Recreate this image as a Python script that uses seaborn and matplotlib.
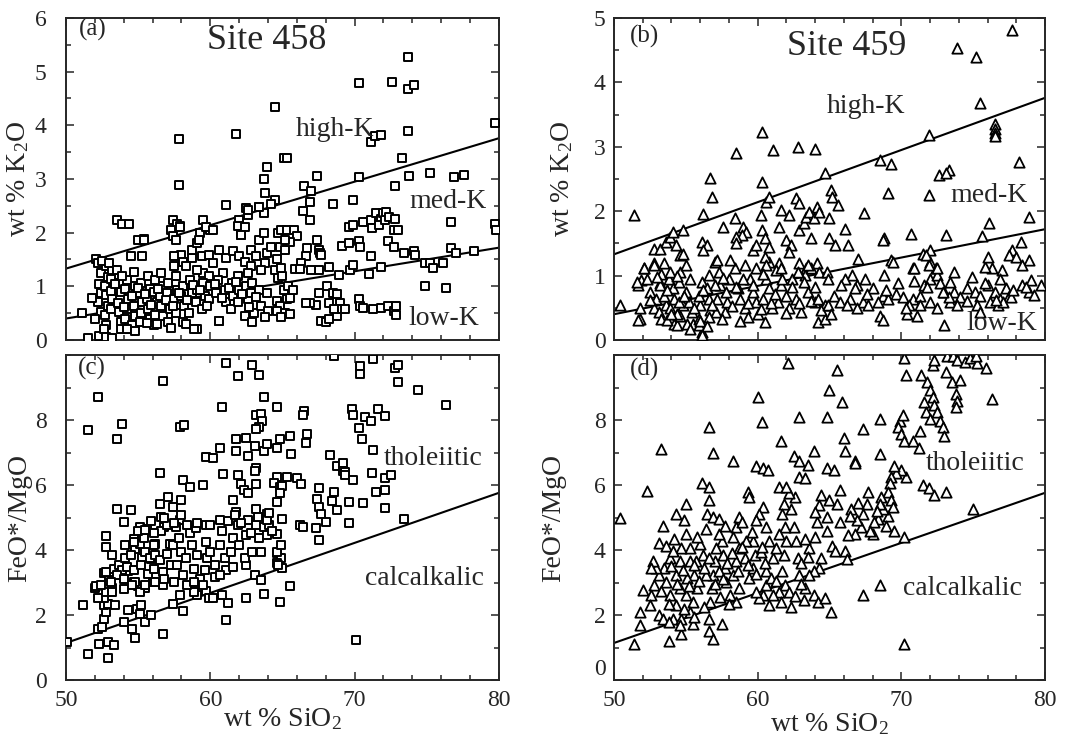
import pandas as pd
import matplotlib
matplotlib.use("Agg")
import matplotlib.pyplot as plt
import seaborn as sns
from matplotlib.ticker import MultipleLocator

# =====================================================
# DATOS
# =====================================================

sio2_limites = [50, 80]
k2o_alto_medio = [1.33, 3.76]
k2o_medio_bajo = [0.40, 1.72]
feo_thol_calc = [1.14, 5.76]

# (a) Site 458: SiO2 vs K2O
pts_a = [
    (57.85, 3.74), (57.8, 2.89), (61.8, 3.84), (64.5, 4.34), (63.9, 3.22), (63.7, 3.00),
    (63.8, 2.74), (64.5, 2.60), (64.2, 2.53), (63.4, 2.47), (63.7, 2.36), (61.1, 2.51),
    (62.5, 2.45), (62.6, 2.32), (62.0, 2.23), (61.9, 2.12), (62.1, 1.96), (59.5, 2.23),
    (59.3, 1.99), (60.0, 2.05), (57.4, 2.24), (57.7, 2.17), (57.9, 2.12), (57.3, 2.05),
    (57.4, 1.93), (53.5, 2.23), (53.9, 2.17), (54.4, 2.17), (55.0, 1.86), (55.4, 1.88),
    (54.5, 1.56), (55.3, 1.56), (52.1, 1.51), (63.9, 1.62), (63.4, 1.86), (63.7, 1.99),
    (64.2, 1.74), (64.6, 1.50), (64.5, 1.31), (64.7, 1.16),
    (65.1, 3.39), (65.3, 3.40), (66.5, 2.86), (67.0, 2.77), (66.9, 2.57), (66.9, 2.23),
    (66.4, 2.40), (67.4, 3.06), (68.5, 2.54), (69.9, 2.61), (70.3, 3.03), (72.8, 2.86),
    (73.3, 3.39), (73.8, 3.06), (75.2, 3.11), (76.9, 3.03), (77.6, 3.08), (79.7, 4.05),
    (73.7, 3.89), (71.1, 3.68), (71.4, 3.80), (71.8, 3.82), (73.7, 4.68), (74.1, 4.76),
    (73.7, 5.28), (72.6, 4.80), (70.3, 4.78),
    (69.1, 1.75), (69.6, 1.81), (69.6, 2.11), (69.9, 2.14), (70.6, 2.20), (71.1, 2.23),
    (71.2, 2.08), (71.5, 2.36), (71.8, 2.26), (72.0, 2.36), (72.2, 2.39), (71.7, 2.14),
    (72.1, 2.23), (72.4, 2.29), (72.8, 2.26), (72.7, 2.05), (73.0, 2.05), (72.3, 1.84),
    (72.7, 1.74), (70.3, 1.85), (70.4, 1.73), (71.1, 1.56), (73.4, 1.62), (74.1, 1.65),
    (74.2, 1.59), (76.7, 2.20), (76.7, 1.71), (77.0, 1.62), (78.3, 1.65), (74.9, 1.43),
    (75.2, 1.43), (76.1, 1.43), (75.4, 1.34), (74.9, 1.00), (76.3, 0.97), (79.7, 2.17),
    (79.8, 2.05), (71.8, 1.36), (71.0, 1.23), (69.7, 1.31), (69.9, 1.40), (68.9, 1.21),
    (68.2, 1.36), (67.5, 1.68), (67.6, 1.62), (67.7, 1.59), (67.4, 1.86), (67.5, 1.31),
    (66.7, 1.71), (66.6, 1.56), (66.3, 1.43), (65.9, 1.32), (66.2, 1.32), (67.0, 1.30),
    (64.8, 1.74), (65.2, 1.68), (64.7, 1.99), (64.9, 2.05), (65.3, 2.05), (65.8, 2.05),
    (66.0, 1.93), (65.5, 1.83), (65.2, 1.86),
    (68.1, 1.00), (67.5, 0.88), (68.5, 0.88), (68.8, 0.85), (69.0, 0.69), (68.2, 0.69),
    (67.3, 0.66), (67.7, 0.36), (68.0, 0.33), (68.2, 0.39), (68.8, 0.45), (68.6, 0.57),
    (69.1, 0.57), (69.3, 0.57), (70.3, 0.76), (70.4, 0.63), (70.6, 0.60), (71.3, 0.57),
    (71.8, 0.60), (72.3, 0.63), (72.7, 0.54), (72.9, 0.63), (72.9, 0.46), (66.9, 0.69),
    (66.6, 0.68), (65.1, 0.94), (65.3, 0.76), (64.6, 0.73), (64.8, 0.63), (65.2, 0.51),
    (64.6, 0.54), (64.9, 0.42), (65.5, 0.48), (65.5, 0.79), (65.4, 1.00), (65.0, 1.19),
    (64.9, 1.34), (65.7, 0.94),
    (58.0, 1.59), (57.5, 1.56), (58.1, 1.46), (58.7, 1.53), (58.3, 1.37), (57.5, 1.37),
    (58.7, 1.68), (59.1, 1.80), (59.4, 1.56), (59.9, 1.59), (60.2, 1.43), (60.6, 1.68),
    (61.1, 1.53), (61.6, 1.65), (62.0, 1.56), (62.4, 1.46), (62.8, 1.68), (63.2, 1.56),
    (63.8, 1.43), (62.8, 1.37), (59.5, 1.25), (59.1, 1.31), (59.9, 1.19), (60.9, 1.25),
    (61.9, 1.19), (62.6, 1.25), (63.5, 1.31), (59.7, 2.11), (60.2, 2.05), (59.2, 1.86),
    (62.4, 2.11), (62.1, 1.96), (62.6, 2.42), (63.4, 2.48), (57.9, 2.11), (57.6, 1.86),
    (55.4, 1.86),
    (52.2, 1.43), (52.4, 1.24), (52.3, 1.05), (52.4, 0.87), (52.2, 0.71), (52.4, 0.52),
    (52.8, 1.37), (52.9, 1.18), (52.7, 1.01), (52.8, 0.83), (52.9, 0.64), (52.7, 0.46),
    (52.8, 0.27), (53.2, 1.30), (53.1, 1.13), (53.3, 0.95), (53.2, 0.77), (53.1, 0.58),
    (53.7, 1.07), (53.8, 0.89), (53.6, 0.69), (53.7, 0.52), (53.8, 0.34), (54.2, 1.12),
    (54.1, 0.95), (54.3, 0.77), (54.2, 0.58), (54.1, 0.40), (54.3, 0.21), (54.7, 1.26),
    (54.8, 1.01), (54.6, 0.82), (54.7, 0.64), (54.8, 0.44), (54.6, 0.28), (55.2, 1.07),
    (55.1, 0.88), (55.3, 0.71), (55.2, 0.51), (55.1, 0.33), (55.7, 1.19), (55.8, 0.95),
    (55.6, 0.76), (55.7, 0.58), (55.8, 0.39), (56.2, 1.12), (56.1, 0.89), (56.3, 0.70),
    (56.2, 0.46), (56.1, 0.27), (56.6, 1.25), (56.7, 1.00), (56.5, 0.82), (56.6, 0.63),
    (56.7, 0.45), (57.1, 1.06), (57.0, 0.88), (57.2, 0.57), (57.1, 0.33), (57.6, 1.19),
    (57.7, 0.94), (57.5, 0.76), (57.6, 0.51), (58.1, 1.00), (58.0, 0.82), (58.2, 0.63),
    (58.1, 0.33), (58.6, 1.12), (58.7, 0.88), (58.5, 0.51), (59.1, 0.94), (59.0, 0.70),
    (59.1, 0.20), (59.5, 1.06), (59.6, 0.82), (59.4, 0.57), (60.0, 1.00), (59.9, 0.76),
    (60.5, 1.12), (60.4, 0.88), (60.6, 0.36), (61.0, 0.94), (61.1, 0.70), (61.5, 1.06),
    (61.6, 0.82), (61.4, 0.57), (62.0, 0.94), (61.9, 0.70), (62.5, 1.00), (62.6, 0.76),
    (62.4, 0.45), (62.9, 1.06), (62.8, 0.88), (63.0, 0.51), (62.9, 0.33), (63.4, 0.94),
    (63.5, 0.63), (63.9, 0.88), (64.0, 0.54), (63.8, 0.42),
    (53.1, 0.92), (53.4, 1.05), (54.0, 0.62), (55.0, 0.96), (55.5, 0.86), (55.9, 0.66),
    (56.4, 0.95), (56.9, 0.74), (57.4, 0.63), (57.8, 0.88), (58.4, 0.74), (58.8, 1.02),
    (59.3, 0.94), (59.8, 0.63), (60.3, 1.04), (60.8, 0.78), (61.3, 0.96), (61.8, 1.08),
    (62.2, 0.86), (62.7, 0.62), (63.2, 0.80), (52.5, 1.48), (53.0, 1.44), (53.5, 1.30),
    (53.9, 1.20),
    (51.1, 0.50), (51.5, 0.03), (52.3, 0.07), (52.6, 0.20), (52.8, 0.05), (53.2, 0.03),
    (51.8, 0.79), (52.0, 0.39), (53.8, 0.20), (54.2, 0.20), (54.8, 0.17), (55.6, 0.32),
    (56.3, 0.30), (57.3, 0.23), (58.3, 0.30), (58.9, 0.20), (60.6, 0.35),
]

# (b) Site 459: SiO2 vs K2O
pts_b = [
    (51.4, 1.94), (77.7, 4.81), (73.9, 4.53), (75.2, 4.40), (75.5, 3.68), (76.5, 3.36),
    (76.5, 3.28), (76.5, 3.21), (76.5, 3.16), (78.2, 2.77), (78.9, 1.91), (71.9, 3.18),
    (68.5, 2.79), (69.3, 2.74), (69.1, 2.28), (71.9, 2.25), (72.6, 2.56), (73.3, 2.64),
    (73.1, 2.59), (67.4, 1.97), (68.8, 1.58), (70.7, 1.65), (73.1, 1.63), (76.1, 1.81),
    (75.6, 1.61), (69.3, 1.24), (70.8, 1.11), (71.5, 1.34), (72.0, 1.39), (72.0, 1.21),
    (72.4, 1.11),
    (56.7, 2.51), (56.8, 2.22), (56.2, 1.96), (56.1, 1.52), (56.5, 1.47), (56.2, 1.39),
    (58.5, 2.90), (57.6, 1.76), (58.4, 1.89), (59.0, 1.76), (59.2, 1.68), (58.9, 1.63),
    (58.5, 1.60), (58.5, 1.50), (59.7, 1.39), (59.9, 1.47), (60.3, 3.23), (60.3, 2.46),
    (60.6, 2.15), (60.8, 2.22), (61.1, 2.95), (60.2, 1.94), (60.3, 1.70), (60.5, 1.58),
    (60.8, 1.45), (60.8, 1.21), (60.5, 1.29), (61.6, 2.02), (62.2, 1.94), (61.5, 1.76),
    (62.0, 1.55), (62.3, 1.47), (62.2, 1.37), (61.5, 1.19), (61.3, 1.08), (62.8, 3.00),
    (64.0, 2.97), (62.7, 2.20), (62.9, 2.12), (62.9, 1.70), (63.2, 1.81), (63.4, 1.91),
    (63.6, 1.99), (63.9, 1.89), (63.7, 1.58), (64.1, 2.07), (64.3, 1.99), (64.7, 2.59),
    (65.1, 2.33), (65.2, 2.22), (65.0, 1.89), (65.0, 1.58), (65.4, 1.47), (65.6, 2.09),
    (66.1, 1.73), (66.3, 1.47), (62.9, 1.19), (63.4, 1.11), (64.1, 1.19),
    (50.4, 0.54), (51.8, 0.33), (51.7, 0.85), (51.9, 0.93), (52.1, 1.11), (52.8, 1.19),
    (52.8, 1.42), (53.2, 1.42), (53.6, 1.52), (53.9, 1.60), (54.1, 1.68), (54.3, 1.47),
    (54.6, 1.32), (54.8, 1.34), (54.8, 1.70), (53.3, 1.03), (53.5, 1.19), (53.2, 0.88),
    (51.7, 0.31), (51.8, 0.49), (51.6, 0.90), (52.1, 1.11), (52.8, 1.16), (52.3, 0.95),
    (52.5, 0.75), (52.9, 0.64), (52.8, 0.49), (53.1, 0.44), (53.3, 0.33), (53.6, 0.54),
    (53.5, 0.69), (53.2, 0.85), (53.8, 0.95), (54.1, 0.80), (54.2, 0.64), (53.9, 0.49),
    (54.2, 0.25), (54.4, 0.23), (54.6, 0.38), (54.8, 0.54), (54.6, 1.06), (54.5, 0.90),
    (55.0, 0.75), (55.2, 0.59), (55.4, 0.44), (55.5, 0.25), (55.1, 0.25), (55.9, 0.33),
    (56.0, 0.54), (55.9, 0.69), (56.1, 0.90), (56.6, 1.01), (56.5, 0.80), (56.6, 0.64),
    (56.7, 0.46), (57.0, 1.21), (57.2, 1.24), (57.3, 1.06), (57.4, 0.85), (57.2, 0.64),
    (57.1, 0.44), (57.7, 0.44), (57.9, 0.59), (57.8, 0.75), (58.0, 0.95), (58.4, 1.11),
    (58.1, 1.24), (58.6, 0.80), (58.8, 0.64), (59.1, 0.49), (59.3, 0.36), (56.1, 0.12),
    (55.9, 0.23), (56.6, 0.36), (59.5, 0.95), (59.7, 0.75), (59.9, 0.59), (60.0, 0.41),
    (60.4, 0.64), (60.6, 0.95), (60.8, 0.80), (61.0, 0.49), (61.4, 0.59), (61.6, 0.85),
    (62.0, 0.69), (62.2, 0.49), (62.4, 0.95), (62.7, 0.64), (63.0, 0.44), (63.3, 1.01),
    (63.5, 0.75), (64.0, 0.59), (64.2, 0.28), (64.7, 0.33), (64.7, 0.54), (64.3, 1.06),
    (63.7, 1.11), (63.5, 1.16), (62.8, 1.06), (61.6, 1.11), (60.6, 1.16), (59.9, 1.11),
    (59.1, 1.16), (55.0, 1.16), (53.9, 1.06), (54.5, 0.59), (53.7, 0.31), (54.4, 0.41),
    (52.5, 0.62), (53.0, 0.98), (53.7, 0.78), (54.0, 0.40), (54.4, 1.00), (54.9, 0.69),
    (55.3, 0.95), (55.6, 0.50), (56.2, 0.78), (56.8, 0.55), (57.0, 0.86), (57.5, 0.33),
    (57.6, 0.96), (58.2, 0.52), (58.5, 0.83), (59.0, 0.95), (59.3, 0.57), (59.7, 0.85),
    (60.2, 0.48), (60.4, 1.02), (60.9, 0.58), (61.2, 0.72), (61.7, 0.95), (62.0, 0.42),
    (62.4, 0.82), (62.9, 0.58), (63.2, 0.90), (63.7, 0.60), (64.0, 0.82), (64.4, 0.46),
    (56.0, 0.30), (56.5, 0.22), (58.8, 0.30), (55.3, 0.17), (60.5, 0.28), (56.1, 0.07),
    (69.4, 1.21), (68.8, 1.01), (67.0, 1.26), (66.6, 1.01), (66.1, 0.95), (66.9, 0.85),
    (67.5, 0.95), (68.0, 0.80), (68.7, 0.69), (69.1, 0.64), (69.6, 0.72), (70.1, 0.67),
    (70.8, 0.64), (71.3, 0.69), (71.6, 0.85), (72.0, 0.95), (72.5, 1.01), (72.7, 0.88),
    (73.0, 0.75), (73.4, 0.90), (73.7, 0.75), (74.1, 0.67), (74.6, 0.80), (75.1, 0.75),
    (75.5, 0.69), (76.0, 0.85), (76.5, 0.75), (76.9, 0.64), (77.3, 0.80), (77.5, 0.69),
    (78.4, 0.85), (78.9, 0.75), (66.4, 0.64), (67.3, 0.59), (67.7, 0.54), (68.4, 0.59),
    (68.5, 0.38), (68.7, 0.31), (70.4, 0.41), (71.1, 0.38), (70.5, 0.54), (71.3, 0.54),
    (72.0, 0.59), (72.5, 0.49), (73.0, 0.23), (73.4, 0.59), (73.9, 0.54), (75.3, 0.54),
    (75.5, 0.44), (76.2, 0.59), (76.7, 0.54), (77.1, 0.59), (77.6, 0.67), (64.9, 0.54),
    (65.3, 0.69), (65.7, 0.59), (66.2, 0.54), (66.9, 0.49), (65.1, 0.41), (64.2, 0.64),
    (64.8, 1.06), (64.9, 0.95),
    (78.3, 1.52), (77.7, 1.39), (77.5, 1.32), (78.0, 1.29), (78.9, 1.24), (78.4, 1.16),
    (77.0, 1.08), (76.3, 1.11), (75.8, 1.13), (76.0, 1.29), (71.7, 1.32), (71.9, 1.16),
    (72.5, 1.11), (70.9, 1.11), (68.7, 1.55), (79.05, 0.93), (79.7, 0.85), (78.7, 0.82),
    (67.6, 0.72), (68.9, 0.78), (70.3, 0.50), (71.8, 0.83), (73.3, 0.66), (74.6, 0.60),
    (75.8, 0.88), (76.6, 0.62), (77.8, 0.78), (79.2, 0.70), (70.9, 0.92), (72.9, 0.74),
    (74.9, 0.98), (76.9, 0.95), (73.7, 1.05), (69.8, 0.88), (66.8, 0.80), (65.8, 0.86),
]

# (c) Site 458: SiO2 vs FeO*/MgO
pts_c = [
    (50.1, 1.18), (51.2, 2.32), (51.5, 0.81), (51.5, 7.70), (52.2, 8.71), (52.3, 1.10),
    (52.9, 0.67), (52.9, 1.16), (53.3, 1.07), (52.2, 1.57), (52.5, 1.63), (52.6, 1.89),
    (52.8, 2.09), (52.6, 2.30), (52.9, 2.35), (52.6, 2.51), (52.2, 2.51), (52.0, 2.82),
    (52.1, 2.88), (52.8, 2.72), (53.2, 2.82), (52.6, 3.29), (53.0, 3.08), (53.4, 2.30),
    (52.8, 4.44), (52.8, 4.09), (53.2, 3.86), (53.5, 5.27), (53.5, 7.43), (53.9, 7.88),
    (54.0, 4.85), (54.5, 5.24), (54.0, 1.78), (54.6, 1.57), (54.8, 1.28), (54.3, 2.15),
    (54.9, 2.20), (55.1, 2.04), (55.5, 1.80), (55.9, 1.99), (55.2, 2.30), (53.7, 3.45),
    (53.9, 3.24), (54.3, 3.34), (54.7, 3.03), (55.0, 2.88), (55.5, 2.82), (54.7, 4.33),
    (55.1, 4.70), (55.6, 4.65), (54.8, 4.02), (55.3, 3.76), (55.9, 3.71), (56.5, 5.43),
    (56.5, 6.36), (56.7, 9.20), (56.6, 5.01), (56.8, 4.70), (56.2, 4.18), (57.1, 5.64),
    (57.4, 5.32), (58.0, 5.53), (57.9, 4.91), (57.6, 4.70), (57.2, 4.18), (56.7, 2.93),
    (57.4, 2.35), (57.9, 2.61), (58.1, 2.11), (57.9, 7.77), (58.2, 7.84), (58.1, 6.16),
    (58.6, 5.95), (59.5, 6.00), (59.7, 6.86), (60.2, 6.83), (60.7, 7.13), (60.9, 6.34),
    (61.1, 9.75), (61.9, 9.36), (60.8, 8.40), (62.9, 9.70), (63.4, 9.39), (63.7, 8.71),
    (63.2, 8.16), (63.5, 8.19), (63.6, 7.98), (63.4, 7.80), (63.2, 7.72), (62.5, 7.46),
    (61.8, 7.41), (61.8, 7.04), (63.1, 7.20), (63.7, 7.04), (63.9, 7.25), (62.6, 6.89),
    (63.2, 6.52), (63.1, 6.42), (63.2, 6.03), (61.9, 6.31), (62.1, 6.03), (62.3, 5.84),
    (62.6, 5.76), (61.6, 5.53), (61.8, 5.17), (62.6, 4.91), (63.2, 5.27), (63.9, 5.11),
    (64.6, 8.40), (64.8, 7.41), (64.6, 7.15), (65.5, 7.51), (65.6, 6.94), (64.6, 6.26),
    (64.4, 6.07), (64.8, 5.95), (65.3, 6.26), (65.0, 5.98), (64.8, 5.74), (64.6, 5.48),
    (65.0, 4.96), (64.6, 4.49), (64.3, 4.59), (63.7, 4.70), (64.6, 3.92), (64.9, 3.76),
    (64.6, 3.60), (65.0, 3.45), (65.5, 2.88), (64.8, 2.41), (63.7, 2.65), (63.1, 3.24),
    (63.5, 3.08), (62.5, 3.55), (62.5, 2.53), (61.2, 2.38), (61.1, 1.86), (60.8, 2.61),
    (59.7, 2.74), (59.9, 2.51), (60.2, 2.53), (59.1, 2.61), (58.9, 2.70), (56.7, 1.42),
    (66.0, 6.21), (66.3, 6.03), (66.2, 4.78), (66.4, 4.72), (66.5, 8.29), (66.4, 8.16),
    (66.7, 7.56), (66.6, 7.28), (67.3, 4.68), (67.5, 4.30), (67.4, 5.58), (67.5, 5.90),
    (67.5, 5.32), (67.7, 5.11), (68.0, 4.85), (68.3, 6.91), (68.6, 5.79), (68.4, 5.51),
    (68.8, 5.24), (68.6, 9.96), (68.8, 6.59), (69.2, 6.68), (69.2, 6.42), (69.3, 6.39),
    (69.3, 6.31), (69.6, 5.48), (69.6, 4.82), (69.9, 6.16), (69.8, 8.34), (69.9, 8.16),
    (70.1, 1.24), (70.3, 7.74), (70.5, 7.41), (70.4, 9.65), (70.4, 9.41), (70.6, 5.45),
    (70.7, 8.08), (71.1, 7.98), (71.2, 6.36), (71.3, 7.09), (71.3, 9.89), (71.5, 5.79),
    (71.6, 8.34), (72.1, 8.11), (72.1, 6.21), (72.1, 5.86), (72.1, 5.30), (72.5, 6.31),
    (72.8, 9.59), (73.0, 9.70), (73.0, 9.18), (73.4, 4.96), (74.4, 8.92), (76.3, 8.45),
    (52.8, 3.32), (53.3, 3.43), (53.7, 3.53), (53.9, 3.37), (53.5, 3.22), (54.0, 3.12),
    (54.1, 3.74), (54.5, 3.84), (54.2, 3.48), (54.7, 3.37), (54.8, 3.01), (55.1, 4.20),
    (55.4, 4.36), (55.5, 3.94), (55.8, 3.74), (55.2, 3.53), (55.7, 3.27), (56.0, 3.01),
    (56.1, 3.43), (56.2, 3.84), (56.1, 4.15), (56.6, 4.57), (56.5, 3.69), (56.7, 3.32),
    (57.0, 3.89), (57.3, 3.53), (57.4, 4.15), (57.0, 4.77), (57.5, 4.82), (57.8, 4.36),
    (58.0, 3.94), (57.7, 3.53), (58.1, 3.22), (58.3, 3.74), (58.7, 4.15), (58.6, 4.51),
    (59.0, 4.67), (59.1, 3.84), (58.9, 3.43), (59.3, 3.12), (59.7, 4.77), (59.7, 4.25),
    (59.8, 3.74), (59.6, 3.37), (60.0, 3.94), (60.3, 3.53), (60.7, 4.15), (60.8, 4.57),
    (61.0, 3.74), (61.1, 3.37), (61.4, 3.94), (61.6, 4.36), (61.9, 4.77), (62.0, 4.15),
    (62.4, 3.74), (62.5, 4.46), (62.8, 4.51), (62.9, 3.94), (63.2, 4.77), (63.4, 4.36),
    (63.5, 3.94), (63.9, 4.46), (64.1, 4.77), (64.3, 4.57), (64.6, 3.94), (64.7, 3.53),
    (64.9, 4.15), (53.1, 3.01), (52.4, 2.91), (53.2, 2.70), (54.0, 2.81), (54.6, 2.91),
    (55.1, 2.70), (55.5, 2.91), (56.2, 3.01), (56.8, 3.12), (57.5, 3.01), (58.4, 2.91),
    (58.9, 3.01), (59.5, 2.91), (60.3, 3.17), (60.7, 3.22), (61.6, 3.48), (54.1, 4.15),
    (54.7, 4.25), (55.0, 4.57), (55.5, 4.62), (56.1, 4.51), (55.9, 4.88), (56.8, 4.98),
    (58.0, 5.08), (58.4, 4.77), (59.1, 4.82), (60.0, 4.77), (60.7, 4.93), (61.2, 4.88),
    (61.7, 5.08), (62.1, 4.82), (63.3, 5.03), (63.9, 4.93), (64.1, 5.13),
]

# (d) Site 459: SiO2 vs FeO*/MgO
pts_d = [
    (50.4, 4.99), (51.4, 1.10), (51.8, 2.09), (51.8, 1.68), (52.0, 2.77), (52.3, 5.82),
    (53.3, 7.11), (53.4, 4.75), (53.1, 4.23), (53.6, 4.13), (53.8, 1.21), (54.7, 1.42),
    (54.3, 5.11), (55.0, 5.43), (55.5, 1.73), (56.1, 6.05), (56.6, 7.77), (56.6, 5.95),
    (56.6, 5.53), (56.9, 6.99), (56.5, 5.11), (56.9, 5.01), (57.3, 4.96), (56.6, 1.89),
    (56.6, 1.52), (56.9, 1.26), (57.5, 1.73), (58.3, 6.73), (59.3, 5.79), (59.4, 5.64),
    (60.0, 8.71), (59.9, 6.57), (60.4, 6.52), (60.7, 6.47), (60.3, 7.93), (61.6, 7.35),
    (61.5, 5.95), (62.1, 9.75), (62.5, 6.89), (62.9, 8.08), (62.9, 6.73), (62.9, 6.26),
    (63.3, 6.21), (63.5, 6.62), (63.9, 7.04), (64.8, 8.08), (64.8, 6.52), (65.3, 6.47),
    (65.0, 8.92), (65.5, 9.54), (65.9, 8.55), (66.0, 7.46), (66.1, 7.04), (66.8, 6.73),
    (66.8, 6.68), (67.3, 7.72), (68.5, 8.03), (68.5, 6.94), (68.5, 2.93), (67.3, 2.61),
    (65.1, 2.09), (70.2, 9.91), (70.3, 9.39), (69.9, 7.98), (70.1, 8.14), (69.8, 7.77),
    (70.0, 7.56), (70.2, 7.35), (70.8, 7.35), (71.3, 7.67), (71.2, 7.15), (71.4, 9.39),
    (71.6, 8.55), (71.8, 9.18), (72.0, 8.92), (72.2, 9.70), (72.3, 9.85), (71.7, 8.24),
    (72.0, 8.03), (72.2, 8.71), (72.3, 8.45), (72.5, 8.24), (72.7, 7.98), (72.9, 7.77),
    (73.0, 7.51), (73.2, 9.96), (73.1, 9.49), (73.5, 9.18), (73.8, 8.81), (73.9, 8.60),
    (73.8, 8.40), (74.1, 9.23), (73.6, 9.96), (73.9, 9.85), (74.4, 9.80), (74.8, 9.91),
    (75.3, 9.75), (75.9, 9.59), (76.3, 8.66), (75.2, 9.98), (71.5, 6.00), (71.9, 5.90),
    (72.3, 5.69), (73.1, 5.79), (75.0, 5.27), (70.3, 6.26), (70.2, 4.39), (70.2, 1.10),
    (70.0, 6.47), (69.6, 6.36), (69.5, 6.57), (69.3, 6.26), (69.2, 6.05), (69.1, 5.79),
    (69.3, 5.53), (69.4, 5.32), (69.5, 4.59), (69.1, 5.06), (68.7, 5.27), (68.6, 5.64),
    (68.5, 5.43), (68.4, 4.96), (68.1, 4.85), (68.0, 4.49), (67.6, 5.43), (67.7, 5.79),
    (67.3, 5.11), (67.2, 4.70), (66.9, 4.91), (66.8, 4.49), (66.5, 5.27), (66.4, 5.06),
    (66.1, 3.97), (66.2, 3.71), (65.2, 4.13), (65.4, 3.97), (65.7, 5.84), (65.5, 5.43),
    (65.0, 5.53), (64.8, 5.01), (64.4, 5.69), (64.3, 5.38), (64.1, 4.85), (64.0, 5.17),
    (63.6, 4.07), (64.0, 4.39), (64.4, 3.76), (64.3, 3.45), (63.9, 3.34), (63.6, 3.24),
    (63.3, 2.82), (63.9, 2.61), (64.2, 2.41), (64.7, 2.51), (63.2, 2.46), (62.9, 3.24),
    (62.8, 3.76), (62.7, 4.28), (62.5, 4.70), (62.3, 5.27), (62.6, 5.64), (62.2, 5.74),
    (62.0, 5.95), (61.8, 5.43), (61.7, 5.11), (61.9, 4.70), (62.0, 4.28), (61.8, 3.86),
    (61.7, 3.34), (61.9, 2.93), (62.2, 2.72), (62.3, 2.25), (61.5, 2.72), (61.1, 2.61),
    (60.8, 2.30), (60.6, 2.93), (60.4, 2.61), (60.1, 2.51), (60.6, 3.34), (61.1, 3.76),
    (60.8, 4.28), (60.6, 4.70), (60.4, 5.32), (60.1, 5.11), (59.9, 4.91), (59.7, 4.28),
    (59.8, 3.86), (59.7, 3.45), (59.4, 3.14), (59.1, 3.76), (59.2, 4.28), (58.7, 5.01),
    (58.5, 4.70), (58.3, 4.39), (58.7, 4.07), (58.5, 3.66), (58.3, 3.24), (58.7, 2.82),
    (58.5, 2.41), (58.1, 2.61), (57.8, 3.03), (57.7, 3.45), (57.6, 3.86), (57.5, 4.28),
    (57.3, 4.49), (57.1, 4.07), (57.0, 3.66), (56.9, 3.24), (56.8, 2.82), (56.7, 2.41),
    (56.4, 3.24), (56.2, 3.86), (56.0, 4.18), (55.7, 3.66), (55.6, 3.24), (55.8, 2.82),
    (55.5, 2.41), (55.3, 2.09), (55.0, 2.61), (55.1, 3.14), (55.3, 3.66), (55.3, 4.07),
    (55.0, 4.49), (54.9, 4.91), (54.7, 4.07), (54.6, 3.66), (54.3, 3.24), (54.6, 2.82),
    (54.3, 2.30), (54.1, 1.89), (54.7, 1.89), (54.9, 2.20), (53.9, 2.61), (53.6, 3.03),
    (53.5, 3.45), (53.9, 3.76), (54.1, 3.97), (53.1, 3.24), (52.9, 3.45), (52.8, 2.93),
    (52.6, 2.61), (52.5, 2.30), (53.1, 1.99), (53.4, 1.89), (53.8, 1.78), (52.7, 3.66),
    (52.6, 3.45),
    (54.0, 3.50), (54.4, 2.95), (54.8, 3.40), (55.2, 2.90), (55.6, 3.55), (55.9, 3.05),
    (56.3, 3.45), (56.6, 3.75), (57.0, 2.95), (57.3, 3.35), (57.6, 3.10), (57.9, 3.60),
    (58.2, 3.90), (58.6, 3.35), (58.9, 4.10), (59.3, 3.55), (59.6, 4.55), (59.9, 3.25),
    (60.2, 3.95), (60.5, 3.60), (60.9, 3.15), (61.3, 4.05), (61.5, 4.50), (61.3, 3.05),
    (53.3, 2.75), (53.8, 2.35), (54.2, 4.35), (55.8, 4.40), (56.4, 4.65), (57.7, 4.75),
    (58.9, 4.85), (60.3, 4.10), (63.0, 3.60), (63.3, 4.35), (63.0, 2.95), (63.5, 3.80),
    (64.8, 4.60), (65.7, 4.85), (66.3, 4.45), (67.0, 5.45), (67.8, 4.60), (68.3, 5.20),
    (68.9, 4.75), (58.0, 2.35), (59.9, 2.70), (61.6, 2.40), (62.6, 2.60), (57.4, 2.55),
    (56.3, 2.25), (55.6, 1.95), (54.6, 1.70),
]

# =====================================================
# ESTILO
# =====================================================

sns.set_style("ticks")
plt.rcParams["font.family"] = ["Liberation Serif", "DejaVu Serif"]
plt.rcParams["mathtext.fontset"] = "custom"
plt.rcParams["mathtext.rm"] = "Liberation Serif"
plt.rcParams["mathtext.it"] = "Liberation Serif:italic"
plt.rcParams["mathtext.default"] = "regular"

fig = plt.figure(figsize=(10.73, 7.37), dpi=100)

ax_a = fig.add_axes([0.0615, 0.5387, 0.4035, 0.4369])
ax_b = fig.add_axes([0.5722, 0.5387, 0.4017, 0.4369])
ax_c = fig.add_axes([0.0615, 0.0773, 0.4035, 0.441])
ax_d = fig.add_axes([0.5722, 0.0773, 0.4017, 0.441])


def panel(ax, pts, marcador, tam, grosor, lineas, ymax, ypaso, ymenor, ypad):
    df = pd.DataFrame(pts, columns=["SiO2", "valor"])
    for ly in lineas:
        sns.lineplot(x=sio2_limites, y=ly, ax=ax, color="black",
                     linewidth=1.5, zorder=2)
    sns.scatterplot(data=df, x="SiO2", y="valor", ax=ax, marker=marcador,
                    s=tam, color="white", edgecolor="black", linewidth=grosor,
                    zorder=3, legend=False)
    ax.set_xlim(50, 80)
    ax.set_ylim(0, ymax)
    ax.xaxis.set_major_locator(MultipleLocator(10))
    ax.xaxis.set_minor_locator(MultipleLocator(2))
    ax.set_yticks(ypaso)
    ax.yaxis.set_minor_locator(MultipleLocator(ymenor))
    ax.tick_params(which="both", direction="in", top=True, right=True,
                   width=1.1, labelsize=17)
    ax.tick_params(which="major", length=6)
    ax.tick_params(which="minor", length=3.5)
    ax.tick_params(axis="y", pad=ypad)
    ax.tick_params(axis="x", pad=7)
    for sp in ax.spines.values():
        sp.set_linewidth(1.4)
    ax.set_xlabel("")
    ax.set_ylabel("")


panel(ax_a, pts_a, "s", 32, 1.4, [k2o_alto_medio, k2o_medio_bajo], 6,
      [0, 1, 2, 3, 4, 5, 6], 0.5, 14)
panel(ax_b, pts_b, "^", 55, 1.3, [k2o_alto_medio, k2o_medio_bajo], 5,
      [0, 1, 2, 3, 4, 5], 0.5, 6)
panel(ax_c, pts_c, "s", 32, 1.4, [feo_thol_calc], 10, [0, 2, 4, 6, 8], 1, 14)
panel(ax_d, pts_d, "^", 55, 1.3, [feo_thol_calc], 10, [0, 2, 4, 6, 8], 1, 6)

ax_a.tick_params(axis="x", labelbottom=False)
ax_b.tick_params(axis="x", labelbottom=False)

# el "0" de (d) se sube un poco para no chocar con el "50"
ax_d.get_yticklabels()[0].set_va("bottom")

# =====================================================
# ETIQUETAS
# =====================================================

ax_a.set_ylabel("wt % K$_2$O", fontsize=20)
ax_b.set_ylabel("wt % K$_2$O", fontsize=20)
ax_c.set_ylabel("FeO*/MgO", fontsize=20)
ax_d.set_ylabel("FeO*/MgO", fontsize=20)
ax_a.yaxis.set_label_coords(-0.081, 0.5)
ax_b.yaxis.set_label_coords(-0.09, 0.5)
ax_c.yaxis.set_label_coords(-0.078, 0.5)
ax_d.yaxis.set_label_coords(-0.11, 0.5)

ax_c.set_xlabel("wt % SiO$_2$", fontsize=20)
ax_d.set_xlabel("wt % SiO$_2$", fontsize=20)
ax_c.xaxis.set_label_coords(0.5, -0.08)
ax_d.xaxis.set_label_coords(0.5, -0.095)

ax_a.text(50.9, 5.78, "(a)", fontsize=18, va="center")
ax_a.text(63.9, 5.42, "Site 458", fontsize=26, ha="center")
ax_a.text(65.9, 3.8, "high-K", fontsize=20)
ax_a.text(73.8, 2.45, "med-K", fontsize=20)
ax_a.text(73.7, 0.28, "low-K", fontsize=20)

ax_b.text(51.1, 4.72, "(b)", fontsize=18, va="center")
ax_b.text(66.2, 4.42, "Site 459", fontsize=26, ha="center")
ax_b.text(64.8, 3.52, "high-K", fontsize=20)
ax_b.text(73.4, 2.15, "med-K", fontsize=20)
ax_b.text(74.5, 0.15, "low-K", fontsize=20)

ax_c.text(50.85, 9.6, "(c)", fontsize=18, va="center")
ax_c.text(72.0, 6.63, "tholeiitic", fontsize=20)
ax_c.text(70.7, 2.93, "calcalkalic", fontsize=20)

ax_d.text(51.1, 9.56, "(d)", fontsize=18, va="center")
ax_d.text(71.7, 6.47, "tholeiitic", fontsize=20)
ax_d.text(70.1, 2.61, "calcalkalic", fontsize=20)

plt.savefig("out.png", dpi=100)
